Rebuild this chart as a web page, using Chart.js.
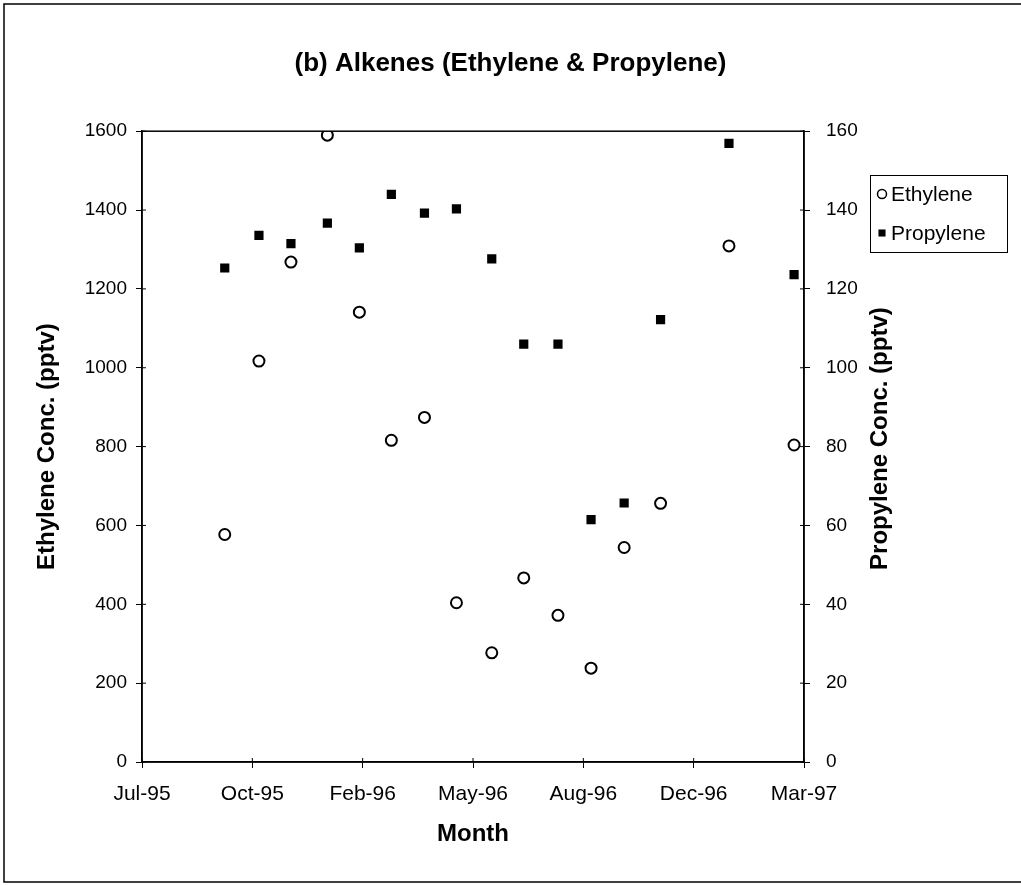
<!DOCTYPE html>
<html>
<head>
<meta charset="utf-8">
<title>(b) Alkenes (Ethylene &amp; Propylene)</title>
<script src="https://cdn.jsdelivr.net/npm/chart.js@4.4.1/dist/chart.umd.min.js"></script>
<style>
  html, body { margin: 0; padding: 0; background: #fff; }
  #wrap { position: relative; width: 1021px; height: 885px; }
</style>
</head>
<body>
<div id="wrap"><canvas id="alkenes"></canvas></div>
<script>
// x is measured in axis steps: 0 = Jul-95 ... 6 = Mar-97
const monthTicks = ['Jul-95', 'Oct-95', 'Feb-96', 'May-96', 'Aug-96', 'Dec-96', 'Mar-97'];
const samplePos = [0.75, 1.06, 1.35, 1.68, 1.97, 2.26, 2.56, 2.85, 3.17, 3.46, 3.77, 4.07, 4.37, 4.70, 5.32, 5.91];
const ethylene = [577, 1017, 1268, 1590, 1141, 816, 874, 404, 277, 467, 372, 238, 544, 656, 1309, 804];
const propylene = [125.3, 133.6, 131.5, 136.7, 130.4, 144.0, 139.2, 140.3, 127.6, 106.0, 106.0, 61.5, 65.7, 112.2, 156.9, 123.6];

const FONT = '"Liberation Sans", Arial, Helvetica, sans-serif';
Chart.defaults.font.family = FONT;
Chart.defaults.color = '#000';

const toPoints = (xs, ys) => xs.map((x, i) => ({ x: x, y: ys[i] }));

// outer frame, plot box, inward tick marks, right-hand title and the boxed legend
const excelLook = {
  id: 'excelLook',
  beforeDraw(chart) {
    const ctx = chart.ctx;
    ctx.save();
    ctx.fillStyle = '#fff';
    ctx.fillRect(0, 0, chart.width, chart.height);
    ctx.strokeStyle = '#000';
    ctx.lineWidth = 1.5;
    ctx.beginPath();
    ctx.moveTo(chart.width + 5, 4);
    ctx.lineTo(4, 4);
    ctx.lineTo(4, 882);
    ctx.lineTo(chart.width + 5, 882);
    ctx.stroke();
    ctx.restore();
  },
  afterDraw(chart) {
    const ctx = chart.ctx;
    const a = chart.chartArea;
    ctx.save();
    ctx.strokeStyle = '#000';
    ctx.lineWidth = 1.5;
    ctx.strokeRect(a.left, a.top, a.right - a.left, a.bottom - a.top);

    // ticks cross the axes a little, like the original
    ctx.lineWidth = 1;
    ctx.beginPath();
    chart.scales.y.ticks.forEach(t => {
      const py = chart.scales.y.getPixelForValue(t.value);
      ctx.moveTo(a.left, py); ctx.lineTo(a.left + 4, py);
    });
    chart.scales.y1.ticks.forEach(t => {
      const py = chart.scales.y1.getPixelForValue(t.value);
      ctx.moveTo(a.right, py); ctx.lineTo(a.right - 4, py);
    });
    chart.scales.x.ticks.forEach(t => {
      const px = chart.scales.x.getPixelForValue(t.value);
      ctx.moveTo(px, a.bottom); ctx.lineTo(px, a.bottom - 4);
    });
    ctx.stroke();

    // right axis title reads bottom-to-top, same as the left one
    ctx.save();
    ctx.translate(880, (a.top + a.bottom) / 2 - 8);
    ctx.rotate(-Math.PI / 2);
    ctx.font = 'bold 24px ' + FONT;
    ctx.textAlign = 'center';
    ctx.textBaseline = 'middle';
    ctx.fillStyle = '#000';
    ctx.fillText('Propylene Conc. (pptv)', 0, 0);
    ctx.restore();

    // legend
    const lx = 870, ly = 175, lw = 137, lh = 77;
    ctx.lineWidth = 1;
    ctx.strokeRect(lx + 0.5, ly + 0.5, lw, lh);
    ctx.font = '21px ' + FONT;
    ctx.textBaseline = 'middle';
    chart.data.datasets.forEach((ds, i) => {
      const cy = ly + 19 + i * 39;
      const open = ds.pointStyle === 'circle';
      ctx.fillStyle = open ? '#fff' : '#000';
      ctx.strokeStyle = '#000';
      ctx.lineWidth = 1.5;
      Chart.helpers.drawPoint(ctx, {
        pointStyle: ds.pointStyle,
        radius: open ? 4.5 : 5,
        borderWidth: open ? 1.5 : 0
      }, lx + 12, cy);
      ctx.fillStyle = '#000';
      ctx.fillText(ds.label, lx + 21, cy + 1);
    });
    ctx.restore();
  }
};

const axisGrid = { drawOnChartArea: false, tickLength: 6, color: '#000', lineWidth: 1 };
const axisBorder = { color: '#000', width: 1.5 };
const plainNum = v => String(v);

new Chart(document.getElementById('alkenes').getContext('2d'), {
  type: 'scatter',
  data: {
    datasets: [{
      label: 'Ethylene',
      data: toPoints(samplePos, ethylene),
      yAxisID: 'y',
      pointStyle: 'circle',
      pointRadius: 5.5,
      pointBorderWidth: 2,
      borderColor: '#000',
      backgroundColor: '#fff'
    }, {
      label: 'Propylene',
      data: toPoints(samplePos, propylene),
      yAxisID: 'y1',
      pointStyle: 'rect',
      pointRadius: 6.5,
      pointBorderWidth: 0,
      borderColor: '#000',
      backgroundColor: '#000'
    }]
  },
  options: {
    responsive: true,
    maintainAspectRatio: false,
    animation: false,
    layout: { padding: { left: 0, right: 0, top: 0, bottom: 0 } },
    plugins: {
      legend: { display: false },
      tooltip: { enabled: false },
      title: {
        display: true,
        text: '(b) Alkenes (Ethylene & Propylene)',
        color: '#000',
        font: { size: 26, weight: 'bold' },
        padding: { top: 48, bottom: 52 }
      }
    },
    scales: {
      x: {
        type: 'linear',
        min: 0,
        max: 6,
        ticks: {
          stepSize: 1,
          autoSkip: false,
          maxRotation: 0,
          padding: 14,
          font: { size: 21 },
          callback: v => Number.isInteger(v) ? monthTicks[v] : ''
        },
        grid: axisGrid,
        border: axisBorder,
        title: { display: true, text: 'Month', font: { size: 24, weight: 'bold' }, padding: { top: 0, bottom: 36 } },
        afterFit: s => { s.height = 123; }
      },
      y: {
        position: 'left',
        min: 0,
        max: 1600,
        ticks: { stepSize: 200, padding: 9, font: { size: 19 }, callback: plainNum },
        grid: axisGrid,
        border: axisBorder,
        title: { display: true, text: 'Ethylene Conc. (pptv)', font: { size: 24, weight: 'bold' }, padding: { top: 33, bottom: 0 } },
        afterFit: s => { s.width = 142; }
      },
      y1: {
        position: 'right',
        min: 0,
        max: 160,
        ticks: { stepSize: 20, padding: 16, font: { size: 19 }, callback: plainNum },
        grid: axisGrid,
        border: axisBorder,
        title: { display: false },
        afterFit: s => { s.width = 217; }
      }
    }
  },
  plugins: [excelLook]
});
</script>
</body>
</html>
